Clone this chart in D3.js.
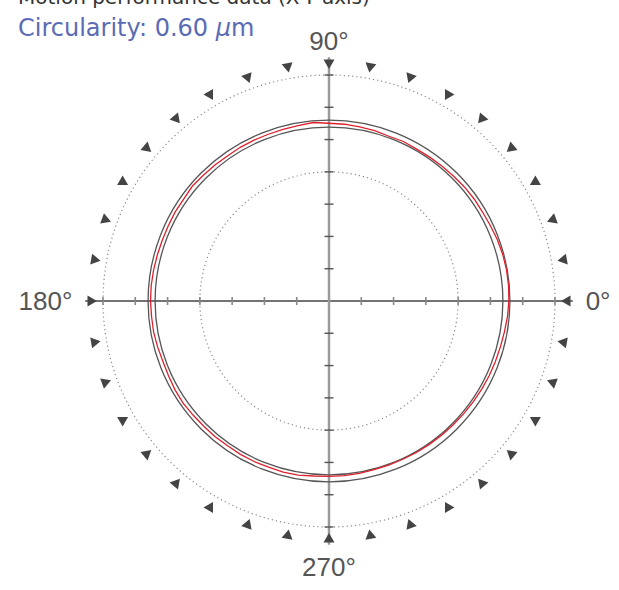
<!DOCTYPE html>
<html><head><meta charset="utf-8">
<script src="https://cdn.jsdelivr.net/npm/d3@7"></script>
<style>body{margin:0;background:#fff;overflow:hidden}</style>
</head><body>
<svg id="chart" width="619" height="590"></svg>
<script>
const titleText = "Motion performance data (X-Y axis)";
const circularityText = "Circularity: 0.60 ";
const circularityUnit = "μ";
const circularityUnit2 = "m";
// radial axis ticks (arbitrary radial units)
const tickValues = [1, 2, 3, 4, 5, 6, 7];
const gridCircles = [4, 7];
// reference (min-zone) circles
const refCircles = [5.387, 5.604];
// angle labels
const angleLabels = ["0°", "90°", "180°", "270°"];
const labelAngles = [0, 90, 180, 270];
// direction markers
const markerAngles = [0,10,20,30,40,50,60,70,80,90,100,110,120,130,140,150,160,170,180,190,200,210,220,230,240,250,260,270,280,290,300,310,320,330,340,350];
// measured trace
const traceAngles = [0,5,10,15,20,25,30,35,40,45,50,55,60,65,70,75,80,85,90,95,100,105,110,115,120,125,130,135,140,145,150,155,160,165,170,175,180,185,190,195,200,205,210,215,220,225,230,235,240,245,250,255,260,265,270,275,280,285,290,295,300,305,310,315,320,325,330,335,340,345,350,355];
const traceRadius = [5.571,5.582,5.582,5.571,5.550,5.517,5.496,5.496,5.485,5.463,5.452,5.441,5.430,5.452,5.430,5.463,5.474,5.496,5.506,5.550,5.517,5.506,5.496,5.496,5.496,5.485,5.496,5.506,5.528,5.496,5.506,5.496,5.496,5.506,5.517,5.528,5.528,5.517,5.517,5.496,5.474,5.485,5.506,5.517,5.496,5.485,5.485,5.474,5.485,5.485,5.474,5.485,5.474,5.441,5.430,5.430,5.420,5.409,5.409,5.409,5.420,5.420,5.430,5.430,5.441,5.452,5.463,5.474,5.485,5.496,5.517,5.550];

const svg = d3.select("#chart");
const cx = 329, cy = 301;
const r = d3.scaleLinear().domain([0, 7]).range([0, 226]);
const rad = d => d * Math.PI / 180;
const g = svg.append("g").attr("transform", `translate(${cx},${cy})`);

// title
svg.append("text").attr("x", 18).attr("y", 4).attr("font-family", "DejaVu Sans")
  .attr("font-size", 20).attr("fill", "#333").text(titleText);
const sub = svg.append("text").attr("x", 18).attr("y", 36).attr("font-family", "DejaVu Sans")
  .attr("font-size", 24).attr("fill", "#5a6bb5");
sub.append("tspan").text(circularityText);
sub.append("tspan").attr("font-style", "italic").text(circularityUnit);
sub.append("tspan").text(circularityUnit2);

// grid dotted circles
g.selectAll("circle.grid").data(gridCircles).join("circle").attr("class", "grid")
  .attr("r", d => r(d)).attr("fill", "none").attr("stroke", "#8a8a8a")
  .attr("stroke-width", 1.2).attr("stroke-dasharray", "1.2,3");

// axes
const axisExt = r(7.55);
g.append("line").attr("x1", -axisExt).attr("x2", axisExt).attr("y1", 0).attr("y2", 0)
  .attr("stroke", "#444").attr("stroke-width", 1.4);
g.append("line").attr("y1", -axisExt).attr("y2", axisExt).attr("x1", 0).attr("x2", 0)
  .attr("stroke", "#9a9a9a").attr("stroke-width", 2.5);

const signed = tickValues.flatMap(v => [v, -v]);
g.selectAll("line.xt").data(signed).join("line").attr("class", "xt")
  .attr("x1", d => d > 0 ? r(d) : -r(-d)).attr("x2", d => d > 0 ? r(d) : -r(-d))
  .attr("y1", -4).attr("y2", 4).attr("stroke", "#888").attr("stroke-width", 1.6);
g.selectAll("line.yt").data(signed).join("line").attr("class", "yt")
  .attr("y1", d => d > 0 ? r(d) : -r(-d)).attr("y2", d => d > 0 ? r(d) : -r(-d))
  .attr("x1", -4.5).attr("x2", 4.5).attr("stroke", "#555").attr("stroke-width", 1.4);

// reference circles
g.selectAll("circle.ref").data(refCircles).join("circle").attr("class", "ref")
  .attr("r", d => r(d)).attr("fill", "none").attr("stroke", "#555").attr("stroke-width", 1.3);

// trace
const pts = traceAngles.map((a, i) => [rad(90 - a), r(traceRadius[i])]);
g.append("path").datum(pts)
  .attr("d", d3.lineRadial().angle(d => d[0]).radius(d => d[1]).curve(d3.curveLinearClosed))
  .attr("fill", "none").attr("stroke", "#e0202c").attr("stroke-width", 1.3);

// markers: triangles pointing inward
const mr = r(7.34);
g.selectAll("path.mk").data(markerAngles).join("path").attr("class", "mk")
  .attr("d", "M-5.5,-4.5 L5.5,-4.5 L0,5 Z")
  .attr("fill", "#444")
  .attr("transform", d => `rotate(${90 - d}) translate(0,${-mr})`);

// angle labels
const lr = r(7.95);
g.selectAll("text.al").data(labelAngles).join("text").attr("class", "al")
  .attr("font-family", "Liberation Sans").attr("font-size", 26).attr("fill", "#555")
  .attr("x", d => Math.cos(rad(d)) * lr)
  .attr("y", d => -Math.sin(rad(d)) * lr)
  .attr("text-anchor", d => d === 0 ? "start" : d === 180 ? "end" : "middle")
  .attr("dy", d => d === 90 ? "0.22em" : d === 270 ? "0.72em" : "0.36em")
  .text((d, i) => angleLabels[i]);
</script>
</body></html>
